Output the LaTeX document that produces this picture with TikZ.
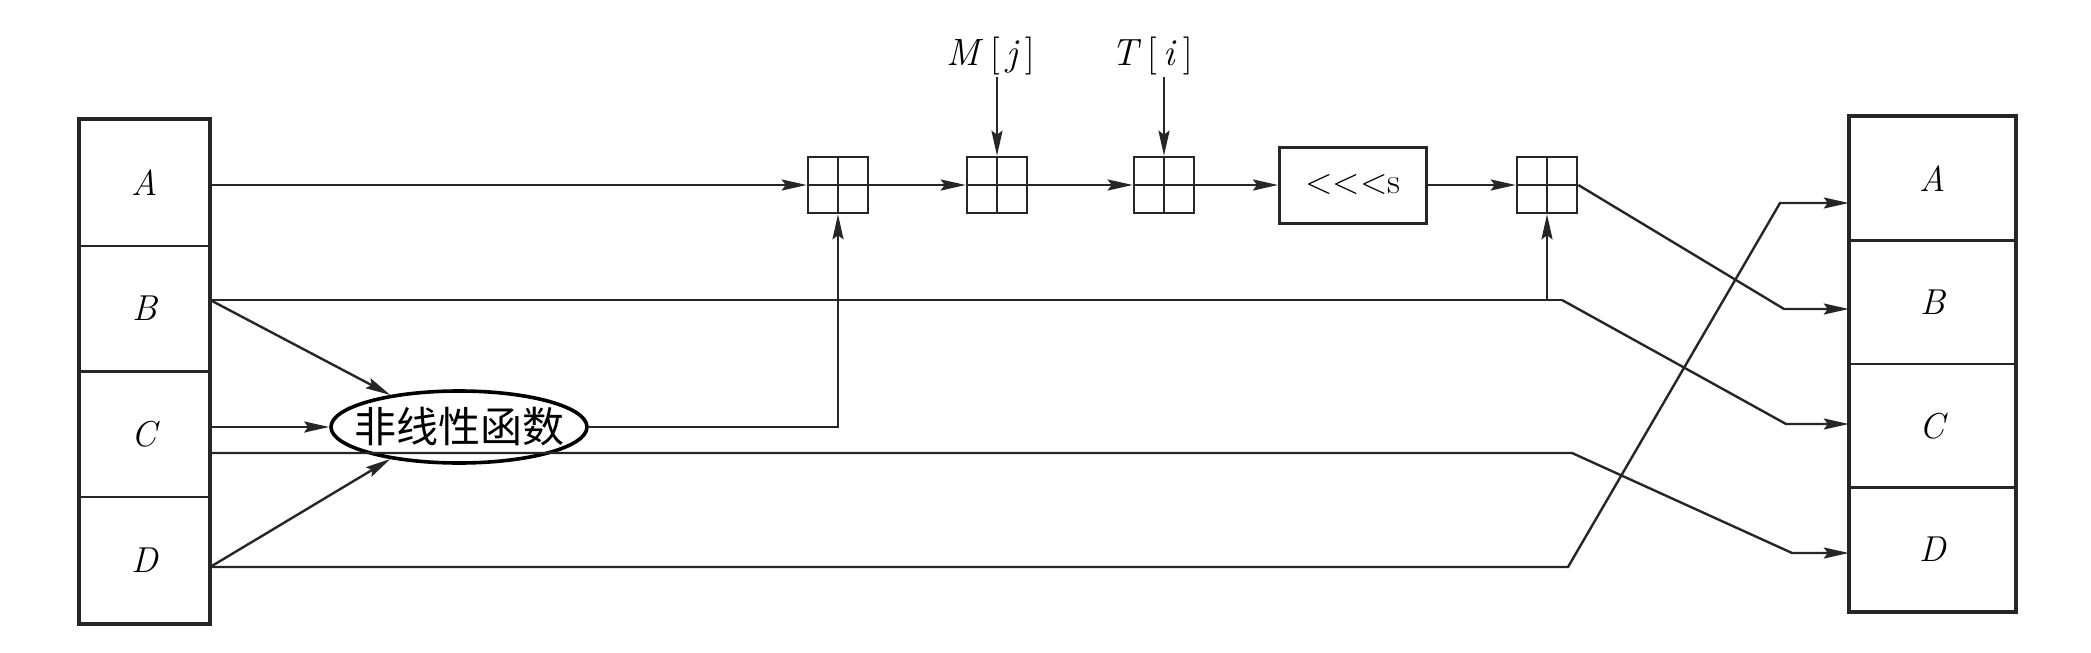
\documentclass[tikz,border=0pt]{standalone}
\usepackage{fontspec}
\newfontfamily\cjk{Noto Sans CJK SC}
\usetikzlibrary{arrows.meta,shapes.geometric}
\begin{document}
\begin{tikzpicture}[x=1pt,y=-1pt,
  ln/.style={line width=2.4pt, draw=black!85},
  arr/.style={ln, -{Stealth[length=25pt,width=11pt,inset=4pt]}},
  lcell/.style={draw=black!85, line width=2.4pt, minimum width=129pt, minimum height=125.75pt, inner sep=0pt, font=\fontsize{36}{40}\selectfont\itshape},
  rcell/.style={draw=black!85, line width=2.4pt, minimum width=165pt, minimum height=123.5pt, inner sep=0pt, font=\fontsize{36}{40}\selectfont\itshape},
  sq/.style={draw=black!85, line width=2.6pt, minimum width=60pt, minimum height=56pt, inner sep=0pt},
  grid/.style={draw=black!85, line width=2pt},
  lbl/.style={font=\fontsize{38}{44}\selectfont, inner sep=2pt}
]
\useasboundingbox[fill=white] (0,0) rectangle (2091,653);

% left register
\node[lcell] (LA) at (144.5,182.9) {A};
\node[lcell] (LB) at (144.5,308.6) {B};
\node[lcell] (LC) at (144.5,434.4) {C};
\node[lcell] (LD) at (144.5,560.1) {D};
\draw[line width=4.5pt, black!85] (LA.north west) rectangle (LD.south east);

% right register
\node[rcell] (RA) at (1932.5,178.75) {A};
\node[rcell] (RB) at (1932.5,302.25) {B};
\node[rcell] (RC) at (1932.5,425.75) {C};
\node[rcell] (RD) at (1932.5,549.25) {D};
\draw[line width=4.5pt, black!85] (RA.north west) rectangle (RD.south east);

% chain
\node[sq] (B1) at (838,185) {};
\node[sq] (B2) at (997,185) {};
\node[sq] (B3) at (1164,185) {};
\node[draw=black!85, line width=3pt, minimum width=147pt, minimum height=76pt, inner sep=0pt, font=\fontsize{36}{40}\selectfont] (R) at (1353,185) {<\kern0pt<\kern0pt<\kern0pt s};
\node[sq] (B4) at (1547,185) {};
\foreach \b in {B1,B2,B3,B4}{
  \draw[grid] (\b.north) -- (\b.south) (\b.west) -- (\b.east);
}

\node[lbl] (Mj) at (991,56) {\textit{M}\,[\,\textit{j}\,]};
\node[lbl] (Ti) at (1152,56) {\textit{T}\,[\,\textit{i}\,]};
\draw[arr] (B2.north |- Mj.south) -- (B2.north);
\draw[arr] (B3.north |- Ti.south) -- (B3.north);

\draw[arr] (B1.east) -- (B2.west);
\draw[arr] (B2.east) -- (B3.west);
\draw[arr] (B3.east) -- (R.west);
\draw[arr] (R.east) -- (B4.west);

% nonlinear function
\node[ellipse, draw=black, line width=3.6pt, minimum width=256pt, minimum height=72pt, inner sep=0pt] (e) at (459,427) {};
\node[font=\cjk\fontsize{42}{42}\selectfont, inner sep=0pt] (et) at (e.center) {非线性函数};

% bend coordinates
\coordinate (bB) at (1562,300);
\coordinate (c2) at (1572,453);
\coordinate (d1) at (1568,567);
\coordinate (cA) at (1780,203);
\coordinate (cB) at (1784,309);
\coordinate (cC) at (1786,424);
\coordinate (cD) at (1792,553);

% A
\draw[arr] (LA.east |- B1.west) -- (B1.west);
% B
\draw[ln] (LB.east |- bB) -- (bB);
\draw[arr] (B4.south |- bB) -- (B4.south);
\draw[arr] (bB) -- (cC) -- (RC.west |- cC);
\draw[arr] (LB.east |- bB) -- (e.155);
% C
\draw[arr] (LC.east |- e.west) -- (e.west);
\draw[arr] (LC.east |- c2) -- (c2) -- (cD) -- (RD.west |- cD);
% D
\draw[arr] (LD.east |- d1) -- (d1) -- (cA) -- (RA.west |- cA);
\draw[arr] (LD.east |- d1) -- (e.205);
% ellipse output
\draw[arr] (e.east) -| (B1.south);
% B4 output
\draw[arr] (B4.east) -- (cB) -- (RB.west |- cB);
\end{tikzpicture}
\end{document}
